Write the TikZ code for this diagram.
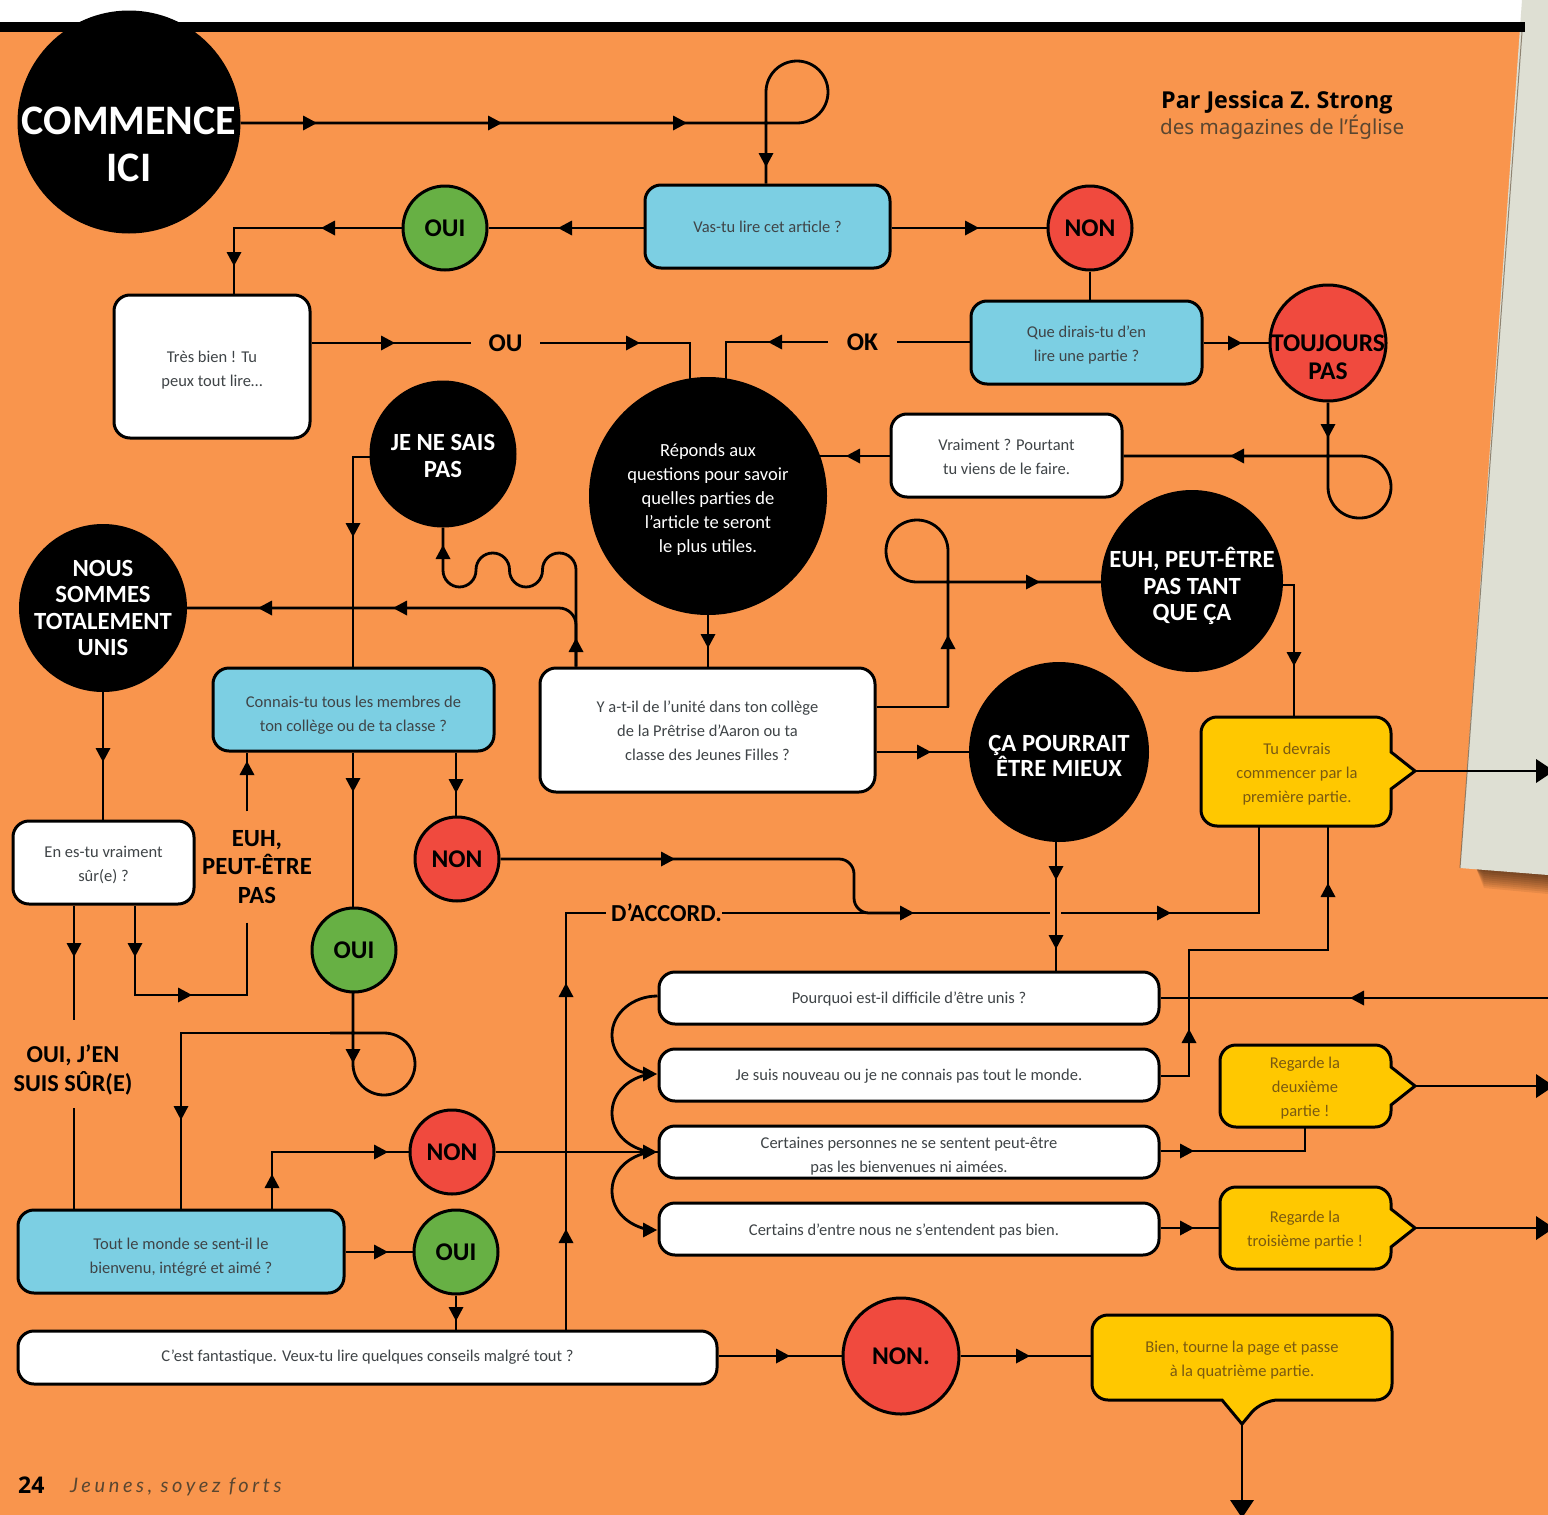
\documentclass[tikz,border=0pt]{standalone}
\usepackage{fontspec}
\setmainfont{Carlito}
\newfontfamily\byfont{Noto Sans}
\newfontfamily\bybold{Open Sans}
\newfontfamily\footfont[LetterSpace=18]{Lato}
\usetikzlibrary{backgrounds}
\definecolor{pageor}{HTML}{F9954D}
\definecolor{paperc}{HTML}{DEDFD3}
\definecolor{boxblue}{HTML}{7CCFE3}
\definecolor{boxyel}{HTML}{FFC800}
\definecolor{cgreen}{HTML}{67B044}
\definecolor{cred}{HTML}{F04A3E}
\definecolor{txtg}{HTML}{3F4447}
\definecolor{txty}{HTML}{7A5A12}
\definecolor{txtb}{HTML}{5A4630}
\newcommand{\mk}[3]{\fill[black,shift={(#1,#2)},rotate=#3] (7,0)--(-7,7.5)--(-7,-7.5)--cycle;}
\newcommand{\bigmk}[3]{\fill[black,shift={(#1,#2)},rotate=#3] (14,0)--(-4,12)--(-4,-12)--cycle;}
\newcommand{\dn}[1]{\rule{0pt}{\dimexpr 12pt+2pt*#1\relax}}
\newcommand{\tall}[1]{\rule{0pt}{#1pt}}
\tikzset{
  x=1pt,y=-1pt,
  ln/.style={line width=2.8pt,draw=black},
  bx/.style={draw=black,line width=3pt,rounded corners=16pt,inner sep=0pt,align=center,text=txtg,
    font=\fontsize{16.5}{24}\selectfont},
  whitebox/.style={bx,fill=white},
  bluebox/.style={bx,fill=boxblue},
  yellowshape/.style={draw=black,line width=3pt,fill=boxyel},
  yellowtext/.style={inner sep=0pt,align=center,text=txty,font=\fontsize{16.5}{24}\selectfont},
  circ/.style={circle,inner sep=0pt,align=center},
  blackc/.style={circ,fill=black,text=white,font=\bfseries\fontsize{24.7}{26.5}\selectfont},
  yesc/.style={circ,draw=black,line width=3pt,fill=cgreen,text=black,minimum size=84pt,font=\bfseries\fontsize{25.5}{28}\selectfont},
  noc/.style={circ,draw=black,line width=3pt,fill=cred,text=black,minimum size=84pt,font=\bfseries\fontsize{25.5}{28}\selectfont},
  lab/.style={inner sep=0pt,align=center,text=black,font=\bfseries\fontsize{25.5}{28.5}\selectfont},
}
\begin{document}
\begin{tikzpicture}
\useasboundingbox (0,0) rectangle (1548,1515);

% circles
\node[blackc,minimum size=223pt] (start) at (129,122) {};
\node[lab,text=white,font=\bfseries\fontsize{42}{47}\selectfont] (startlab) at (129,144) {COMMENCE\\ICI};
\node[yesc] (oui1) at (445,228) {OUI};
\node[noc] (non1) at (1090,228) {NON};
\node[noc,minimum size=116pt] (toujours) at (1328,343) {};
\node[lab] (toujlab) at (1328,357) {TOUJOURS\\PAS};
\node[blackc,minimum size=147pt] (jene) at (443,454) {\tall{20}JE NE SAIS\\PAS};
\node[circ,inner sep=-10pt,fill=black,text=white,minimum size=238pt,font=\fontsize{18.5}{24}\selectfont] (reponds) at (708,496) {\dn{4}Réponds aux\\questions pour savoir\\quelles parties de\\l’article te seront\\le plus utiles.};
\node[blackc,inner sep=-10pt,minimum size=168pt] (nous) at (103,608) {NOUS\\SOMMES\\TOTALEMENT\\UNIS};
\node[blackc,inner sep=-10pt,minimum size=182pt] (euh) at (1192,581) {\tall{31}EUH, PEUT-ÊTRE\\PAS TANT\\QUE ÇA};
\node[blackc,minimum size=180pt,font=\bfseries\fontsize{24.7}{25}\selectfont] (mieux) at (1059,752) {\tall{24}ÇA POURRAIT\\ÊTRE MIEUX};
\node[noc] (non2) at (457,859) {NON};
\node[yesc] (oui2) at (354,950) {OUI};
\node[noc] (non3) at (452,1152) {NON};
\node[yesc] (oui3) at (456,1252) {OUI};
\node[noc,minimum size=116pt] (non4) at (901,1356) {NON.};

% boxes
\node[bluebox,minimum width=245pt,minimum height=83pt] (vas) at (767.5,226.5) {Vas-tu lire cet article ?};
\node[whitebox,minimum width=196pt,minimum height=143pt] (tres) at (212,366.5) {\dn{3}Très bien ! Tu\\peux tout lire…};
\node[bluebox,minimum width=231pt,minimum height=83pt] (que) at (1086.5,342.5) {\dn{2}Que dirais-tu d’en\\lire une partie ?};
\node[whitebox,minimum width=231pt,minimum height=83pt] (vraiment) at (1006.5,455.5) {\dn{1}Vraiment ? Pourtant\\tu viens de le faire.};
\node[bluebox,minimum width=281pt,minimum height=83pt] (connais) at (353.5,709.5) {\dn{5}Connais-tu tous les membres de\\ton collège ou de ta classe ?};
\node[whitebox,minimum width=335pt,minimum height=124pt] (unite) at (707.5,730) {\dn{1}Y a-t-il de l’unité dans ton collège\\de la Prêtrise d’Aaron ou ta\\classe des Jeunes Filles ?};
\node[whitebox,minimum width=181pt,minimum height=83pt] (sure) at (103.5,862.5) {\dn{2}En es-tu vraiment\\sûr(e) ?};
\node[whitebox,minimum width=500pt,minimum height=52pt] (pourquoi) at (909,998) {\dn{1}Pourquoi est-il difficile d’être unis ?};
\node[whitebox,minimum width=500pt,minimum height=52pt] (nouveau) at (909,1075) {\dn{1}Je suis nouveau ou je ne connais pas tout le monde.};
\node[whitebox,minimum width=500pt,minimum height=52pt] (certaines) at (909,1152) {\dn{4}Certaines personnes ne se sentent peut-être\\pas les bienvenues ni aimées.};
\node[whitebox,minimum width=500pt,minimum height=52pt] (certains) at (909,1229) {\dn{2}\hspace*{-10pt}Certains d’entre nous ne s’entendent pas bien.};
\node[bluebox,minimum width=326pt,minimum height=83pt] (tout) at (181,1251.5) {\dn{5}Tout le monde se sent-il le\\bienvenu, intégré et aimé ?};
\node[whitebox,minimum width=699pt,minimum height=53pt] (fant) at (367.5,1357.5) {C’est fantastique. Veux-tu lire quelques conseils malgré tout ?};

% yellow callouts
\coordinate (y1tip) at (1415,771);
\coordinate (y2tip) at (1415,1086);
\coordinate (y3tip) at (1415,1228);
\coordinate (y4tip) at (1242,1424);
\begin{scope}[on background layer]
% page
\fill[white] (0,0) rectangle (1548,1515);
\fill[pageor] (0,22) rectangle (1548,1515);
\foreach \d in {2,4,...,20}{
  \fill[black,opacity=.07] (1476,868) -- (1548,874) -- (1548,874+\d) -- (1484,868+\d) -- cycle;
}
\fill[paperc] (1522,0) -- (1548,0) -- (1548,875) -- (1460,868) -- cycle;
\draw[txtb,line width=1pt,opacity=.6] (1522,32) -- (1460,868);
\fill[black] (0,22) rectangle (1525,32);

% connectors
\draw[ln,rounded corners=31pt] (start.east |- 0,123) -- (828,123) -- (828,61) -- (766,61) -- (766,0 |- vas.north);
\mk{310}{123}{0}\mk{495}{123}{0}\mk{680}{123}{0}\mk{766}{160}{270}

\draw[ln] (vas.west |- 0,228) -- (oui1.east);
\mk{565}{228}{180}
\draw[ln] (vas.east |- 0,228) -- (non1.west);
\mk{972}{228}{0}
\draw[ln] (oui1.west) -- (234,228) -- (234,0 |- tres.north);
\mk{328}{228}{180}\mk{234}{259}{270}
\draw[ln] (non1.south) -- (1090,0 |- que.north);
\draw[ln] (que.east |- 0,343) -- (toujours.west);
\mk{1235}{343}{0}

\node[lab,minimum width=69pt] (ou) at (505.5,343) {OU};
\node[lab,minimum width=69pt] (ok) at (862.5,342) {OK};
\draw[ln] (tres.east |- 0,343) -- (ou.west);
\mk{388}{343}{0}
\draw[ln] (ou.east) -- (690,343) -- (690,385);
\mk{633}{343}{0}
\draw[ln] (que.west |- 0,342) -- (ok.east);
\draw[ln] (ok.west) -- (726,342) -- (726,385);
\mk{775}{342}{180}

\draw[ln,rounded corners=31pt] (toujours.south) -- (1328,518) -- (1391,518) -- (1391,456) -- (vraiment.east |- 0,456);
\mk{1328}{431}{270}\mk{1237}{456}{180}
\draw[ln] (vraiment.west |- 0,456) -- (820,456);
\mk{853}{456}{180}

\draw[ln] (reponds.south) -- (708,0 |- unite.north);
\mk{708}{641}{270}

\draw[ln,rounded corners=16.7pt] (576,0 |- unite.north) -- (576,553) -- (542.5,553) -- (542.5,587) -- (509.5,587) -- (509.5,553) -- (476,553) -- (476,587) -- (443,587) -- (jene.south);
\mk{443}{552}{90}\mk{576}{645}{90}
\draw[ln,rounded corners=17pt] (576,0 |- unite.north) -- (576,608) -- (nous.east);
\mk{400}{608}{180}\mk{265}{608}{180}
\draw[ln] (372,457) -- (353,457) -- (353,0 |- connais.north);
\mk{353}{530}{270}

\draw[ln,rounded corners=31pt] (948,707) -- (948,520) -- (886,520) -- (886,582) -- (euh.west |- 0,582);
\draw[ln] (unite.east |- 0,707) -- (948,707) -- (948,600);
\mk{948}{642}{90}\mk{1033}{582}{0}
\draw[ln] (unite.east |- 0,752) -- (mieux.west);
\mk{924}{752}{0}

\draw[ln] (1278,585) -- (1294,585) -- (1294,717);
\mk{1294}{659}{270}
\draw[ln] (y1tip) -- (1548,771);
\bigmk{1540}{771}{0}

\draw[ln] (1056,842) -- (1056,0 |- pourquoi.north);
\mk{1056}{873}{270}\mk{1056}{942}{270}

\node[lab,minimum width=114pt,font=\bfseries\fontsize{24.4}{28}\selectfont] (daccord) at (664,913) {\hspace*{5pt}D’ACCORD.};
\draw[ln] (daccord.east) -- (1050,913);
\draw[ln,rounded corners=15pt] (non2.east) -- (854,859) -- (854,913) -- (905,913);
\mk{668}{859}{0}\mk{907}{913}{0}
\draw[ln] (1061,913) -- (1259,913) -- (1259,826);
\mk{1164}{913}{0}

\draw[ln] (566,0 |- fant.north) -- (566,913) -- (daccord.west);
\mk{566}{990}{90}\mk{566}{1236}{90}

\node[lab,minimum height=111pt,font=\bfseries\fontsize{24.7}{28.5}\selectfont] (euhlab) at (257,867) {EUH,\\PEUT-ÊTRE\\PAS};
\draw[ln] (247,0 |- euhlab.north) -- (247,0 |- connais.south);
\mk{247}{768}{90}
\draw[ln] (247,0 |- euhlab.south) -- (247,995) -- (135,995) -- (135,0 |- sure.south);
\mk{135}{950}{270}\mk{185}{995}{0}

\node[lab,font=\bfseries\fontsize{24.3}{28.5}\selectfont] (ouij) at (73,1070) {OUI, J’EN\\SUIS SÛR(E)};
\coordinate (ouijtop) at (74,1020);
\coordinate (ouijbot) at (74,1108);
\draw[ln] (74,0 |- sure.south) -- (ouijtop);
\mk{74}{950}{270}
\draw[ln] (ouijbot) -- (74,0 |- tout.north);

\draw[ln] (nous.south) -- (103,0 |- sure.north);
\mk{103}{755}{270}
\draw[ln] (353,0 |- connais.south) -- (353,908);
\mk{353}{785}{270}
\draw[ln] (456,0 |- connais.south) -- (456,817);
\mk{456}{786}{270}

\draw[ln,rounded corners=31pt] (353,992) -- (353,1095) -- (415,1095) -- (415,1033) -- (330,1033);
\draw[ln] (360,1033) -- (181,1033) -- (181,0 |- tout.north);
\mk{353}{1056}{270}\mk{181}{1113}{270}

\draw[ln] (272,0 |- tout.north) -- (272,1152) -- (non3.west);
\mk{272}{1181}{90}\mk{381}{1152}{0}
\draw[ln] (tout.east |- 0,1252) -- (oui3.west);
\mk{381}{1252}{0}
\draw[ln] (oui3.south) -- (456,0 |- fant.north);
\mk{456}{1314}{270}
\draw[ln] (non3.east) -- (certaines.west);
\mk{650}{1152}{0}

\draw[ln] (pourquoi.west |- 0,996) .. controls (633,996) and (612,1013) .. (612,1035) .. controls (612,1055) and (628,1070) .. (650,1074);
\draw[ln] (650,1074) .. controls (628,1078) and (612,1093) .. (612,1113) .. controls (612,1133) and (628,1148) .. (650,1152);
\draw[ln] (650,1152) .. controls (628,1156) and (612,1171) .. (612,1191) .. controls (612,1211) and (628,1226) .. (650,1230);
\mk{650}{1074}{0}\mk{650}{1230}{0}

\draw[ln] (pourquoi.east |- 0,998) -- (1548,998);
\mk{1357}{998}{180}
\draw[ln] (nouveau.east |- 0,1076) -- (1189,1076) -- (1189,950) -- (1328,950) -- (1328,826);
\mk{1189}{1036}{90}\mk{1328}{890}{90}
\draw[ln] (certaines.east |- 0,1151) -- (1305,1151) -- (1305,1127);
\mk{1187}{1151}{0}
\draw[ln] (certains.east |- 0,1228) -- (1220,1228);
\mk{1187}{1228}{0}
\draw[ln] (y2tip) -- (1548,1086);
\bigmk{1540}{1086}{0}
\draw[ln] (y3tip) -- (1548,1228);
\bigmk{1540}{1228}{0}
\draw[ln] (fant.east |- 0,1356) -- (non4.west);
\mk{783}{1356}{0}
\draw[ln] (non4.east) -- (1092,1356);
\mk{1023}{1356}{0}
\draw[ln] (y4tip) -- (1242,1515);
\bigmk{1242}{1504}{270}
\end{scope}

% yellow shapes
\draw[yellowshape,rounded corners=16pt] (1201,771) -- (1201,717) -- (1391,717) [sharp corners] -- (1391,752) -- (y1tip) -- (1391,789) [rounded corners=16pt] -- (1391,826) -- (1201,826) -- cycle;
\node[yellowtext] (y1) at (1297,774) {Tu devrais\\commencer par la\\première partie.};
\draw[yellowshape,rounded corners=16pt] (1220,1086) -- (1220,1045) -- (1391,1045) [sharp corners] -- (1391,1067) -- (y2tip) -- (1391,1105) [rounded corners=16pt] -- (1391,1127) -- (1220,1127) -- cycle;
\node[yellowtext] (y2) at (1305,1088) {Regarde la\\deuxième\\partie !};
\draw[yellowshape,rounded corners=16pt] (1220,1228) -- (1220,1187) -- (1391,1187) [sharp corners] -- (1391,1209) -- (y3tip) -- (1391,1247) [rounded corners=16pt] -- (1391,1269) -- (1220,1269) -- cycle;
\node[yellowtext] (y3) at (1305,1230) {Regarde la\\troisième partie !};
\draw[yellowshape,rounded corners=16pt] (1092,1358) -- (1092,1315) -- (1392,1315) -- (1392,1400) -- (1262,1400) [sharp corners] -- (y4tip) -- (1222,1400) [rounded corners=16pt] -- (1092,1400) -- cycle;
\node[yellowtext] (y4) at (1242,1360) {Bien, tourne la page et passe\\à la quatrième partie.};

% byline and footer
\node[anchor=west,inner sep=0pt,text=black,font=\bybold\bfseries\fontsize{23.3}{28}\selectfont] (by1) at (1161,102) {Par Jessica Z. Strong};
\node[anchor=west,inner sep=0pt,text=txtb,font=\byfont\fontsize{20.6}{28}\selectfont] (by2) at (1160,127) {des magazines de l’Église};
\node[anchor=west,inner sep=0pt,text=black,font=\bybold\bfseries\fontsize{23}{28}\selectfont] (pg) at (18,1485) {24};
\node[anchor=west,inner sep=0pt,text=txtb,font=\footfont\itshape\fontsize{20}{24}\selectfont] (mag) at (70,1487) {Jeunes, soyez forts};
\end{tikzpicture}
\end{document}
